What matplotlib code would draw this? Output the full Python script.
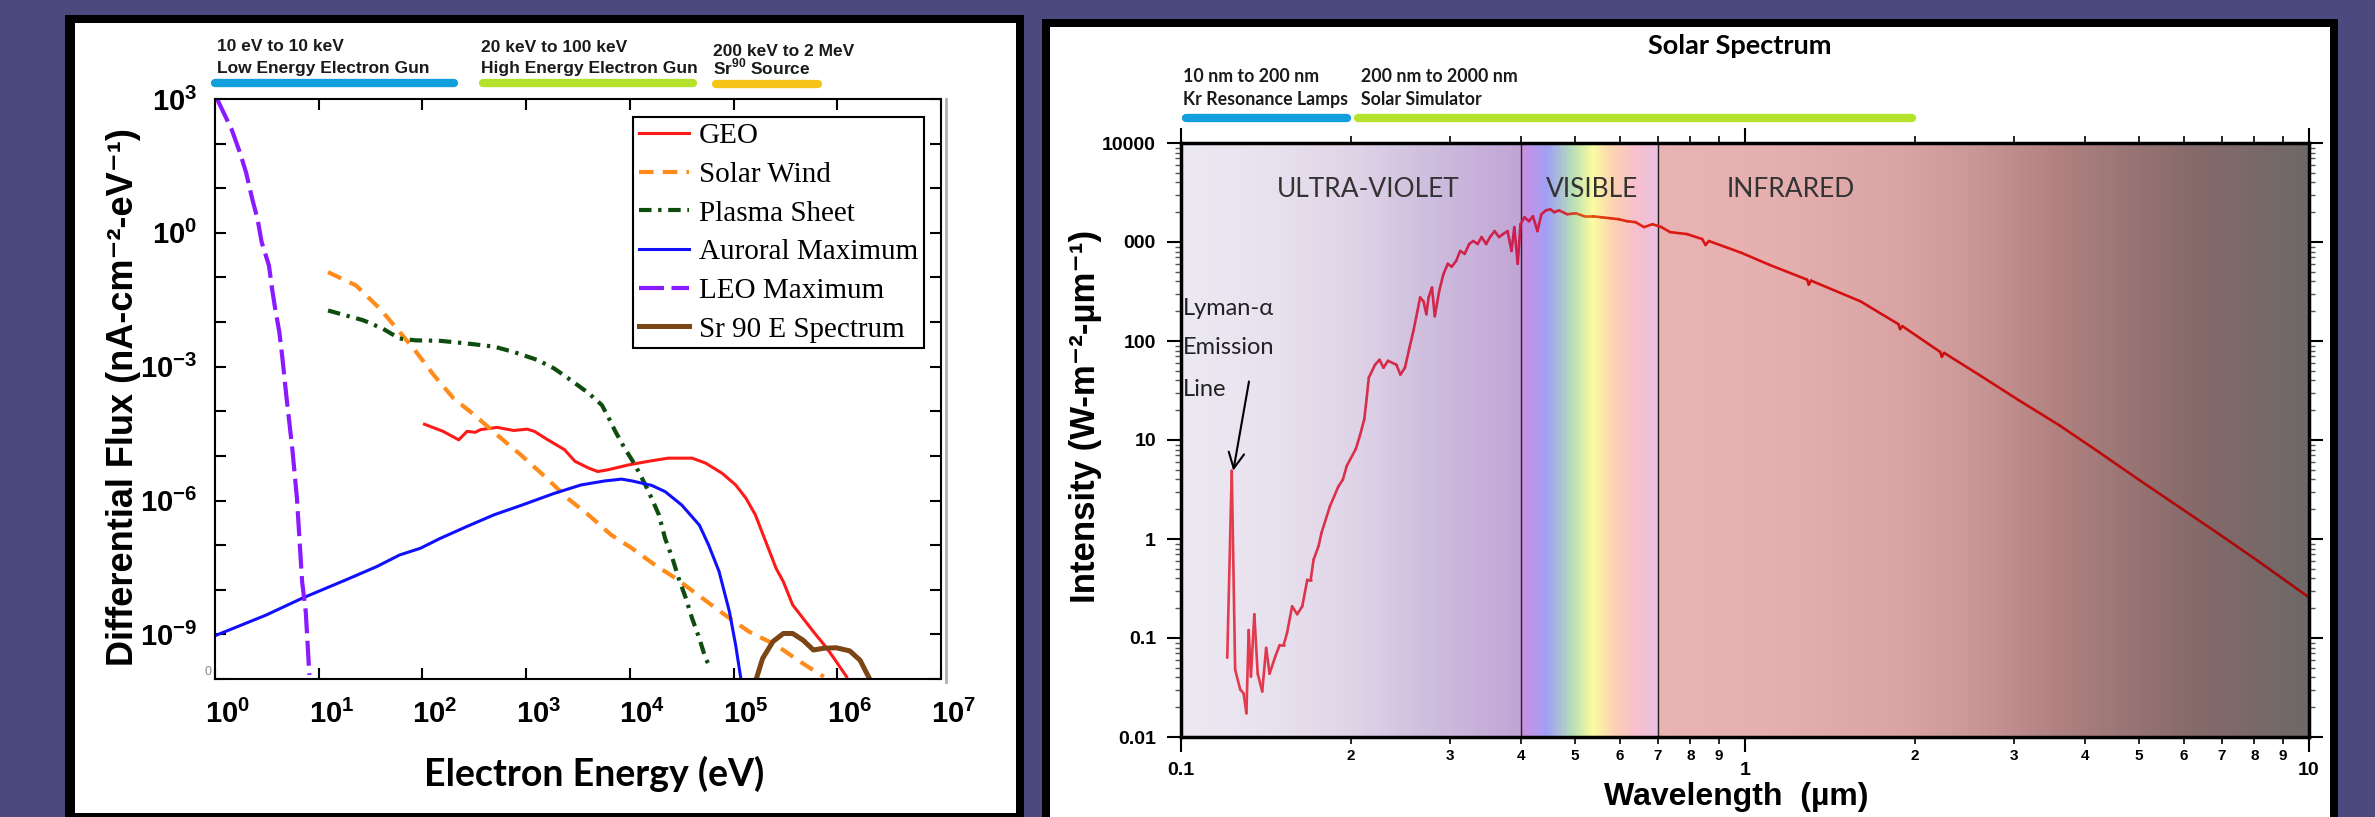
import matplotlib
matplotlib.use('Agg')
import matplotlib.pyplot as plt
import matplotlib.transforms as mtransforms
from matplotlib.patches import Rectangle
from matplotlib.lines import Line2D
from matplotlib.collections import LineCollection
from matplotlib.ticker import FixedLocator, FixedFormatter, NullFormatter, NullLocator, LogLocator
import numpy as np

plt.rcParams['font.family'] = ['Liberation Sans', 'DejaVu Sans']
plt.rcParams['mathtext.fontset'] = 'custom'
plt.rcParams['mathtext.rm'] = 'Liberation Sans'
plt.rcParams['mathtext.bf'] = 'Liberation Sans:bold'

# ---- left chart: electron spectra (log10 energy in eV, log10 flux) ----
geo_log_e = [2.02, 2.20, 2.35, 2.43, 2.51, 2.56, 2.72, 2.88, 3.01, 3.08, 3.21, 3.37, 3.47, 3.60,
             3.69, 3.79, 3.99, 4.18, 4.37, 4.60, 4.73, 4.89, 5.02, 5.12, 5.21, 5.31, 5.41, 5.48,
             5.57, 5.67, 5.77, 5.90, 5.99, 6.09]
geo_log_f = [-4.29, -4.45, -4.64, -4.45, -4.47, -4.41, -4.36, -4.43, -4.40, -4.45, -4.64, -4.86,
             -5.12, -5.27, -5.35, -5.31, -5.20, -5.12, -5.05, -5.05, -5.16, -5.39, -5.65, -5.95,
             -6.32, -6.92, -7.52, -7.82, -8.34, -8.64, -8.94, -9.31, -9.61, -9.95]

sw_log_e = [1.09, 1.36, 1.59, 1.78, 1.94, 2.11, 2.30, 2.50, 2.72, 2.95, 3.18, 3.40, 3.60, 3.82,
            4.02, 4.24, 4.44, 4.70, 4.92, 5.15, 5.41, 5.64, 5.87]
sw_log_f = [-0.88, -1.18, -1.70, -2.22, -2.67, -3.19, -3.71, -4.08, -4.53, -4.98, -5.46, -5.95,
            -6.32, -6.77, -7.07, -7.44, -7.74, -8.19, -8.57, -8.94, -9.24, -9.61, -9.95]

ps_log_e = [1.09, 1.43, 1.62, 1.78, 1.94, 2.17, 2.43, 2.69, 2.88, 3.11, 3.27, 3.43, 3.60, 3.73,
            3.79, 3.86, 3.95, 4.05, 4.15, 4.21, 4.28, 4.34, 4.41, 4.47, 4.54, 4.60, 4.67, 4.73, 4.78]
ps_log_f = [-1.74, -1.96, -2.15, -2.37, -2.41, -2.42, -2.48, -2.55, -2.67, -2.85, -3.04, -3.30,
            -3.59, -3.86, -4.12, -4.45, -4.83, -5.20, -5.65, -5.95, -6.32, -6.85, -7.29, -7.74,
            -8.19, -8.64, -9.09, -9.54, -9.76]

au_log_e = [0.0, 0.49, 0.84, 1.26, 1.56, 1.78, 1.98, 2.17, 2.43, 2.69, 2.95, 3.27, 3.53, 3.76,
            3.92, 4.02, 4.21, 4.34, 4.50, 4.67, 4.76, 4.86, 4.96, 5.02, 5.07]
au_log_f = [-9.03, -8.57, -8.19, -7.78, -7.48, -7.22, -7.07, -6.85, -6.58, -6.32, -6.11, -5.84,
            -5.65, -5.56, -5.52, -5.56, -5.66, -5.80, -6.10, -6.55, -7.00, -7.59, -8.49, -9.24, -9.99]

leo_log_e = [0.02, 0.16, 0.24, 0.30, 0.36, 0.41, 0.45, 0.52, 0.55, 0.58, 0.62, 0.65, 0.68, 0.69,
             0.745, 0.79, 0.82, 0.84, 0.875, 0.91]
leo_log_f = [3.0, 2.32, 1.80, 1.35, 0.75, 0.31, -0.21, -0.73, -1.25, -1.70, -2.22, -2.81, -3.48,
             -3.70, -4.83, -5.95, -7.07, -7.82, -8.49, -9.91]

sr_log_e = [5.22, 5.28, 5.38, 5.48, 5.57, 5.67, 5.77, 5.87, 5.99, 6.12, 6.22, 6.31]
sr_log_f = [-9.99, -9.54, -9.16, -8.98, -8.98, -9.13, -9.35, -9.31, -9.30, -9.37, -9.58, -9.99]

series_names = ['GEO', 'Solar Wind', 'Plasma Sheet', 'Auroral Maximum', 'LEO Maximum', 'Sr 90 E Spectrum']

energy_decades = [0, 1, 2, 3, 4, 5, 6, 7]
flux_decades = list(range(-10, 4))
flux_labelled = [3, 0, -3, -6, -9]

left_bar_texts = [('10 eV to 10 keV', 'Low Energy Electron Gun'),
                  ('20 keV to 100 keV', 'High Energy Electron Gun'),
                  ('200 keV to 2 MeV', r'Sr$^{\mathbf{90}}$ Source')]
left_bar_ranges = [(1.0, 200.0), (380.0, 41000.0), (68000.0, 650000.0)]

# ---- right chart: solar spectrum (log10 wavelength in um, log10 intensity) ----
spec_log_wl = [-0.918, -0.910, -0.904, -0.895, -0.889, -0.884, -0.880, -0.876, -0.870, -0.864,
               -0.856, -0.849, -0.843, -0.833, -0.825, -0.818, -0.812, -0.803, -0.794, -0.785,
               -0.776, -0.770, -0.765, -0.756, -0.751, -0.736, -0.721, -0.713, -0.706, -0.690,
               -0.683, -0.675, -0.671, -0.667, -0.656, -0.648, -0.641, -0.633, -0.618, -0.611,
               -0.603, -0.595, -0.588, -0.583, -0.576, -0.570, -0.565, -0.561, -0.555, -0.550,
               -0.542, -0.535, -0.527, -0.520, -0.512, -0.505, -0.497, -0.489, -0.482, -0.474,
               -0.467, -0.459, -0.452, -0.444, -0.436, -0.429, -0.421, -0.414, -0.409, -0.403,
               -0.398, -0.391, -0.383, -0.376, -0.368, -0.361, -0.353, -0.345, -0.338, -0.330,
               -0.315, -0.300, -0.285, -0.270, -0.255, -0.239, -0.224, -0.209, -0.194, -0.179,
               -0.164, -0.148, -0.133, -0.103, -0.076, -0.070, -0.064, -0.006, 0.043, 0.110,
               0.113, 0.117, 0.205, 0.272, 0.275, 0.279, 0.346, 0.349, 0.353, 0.416, 0.486,
               0.557, 0.627, 0.698, 0.768, 0.838, 0.909, 1.0]
spec_log_int = [-1.20, 0.69, -1.32, -1.52, -1.56, -1.76, -0.92, -1.39, -0.76, -1.36,
                -1.54, -1.10, -1.36, -1.19, -1.07, -1.07, -0.95, -0.68, -0.76, -0.68,
                -0.41, -0.41, -0.21, -0.07, 0.06, 0.33, 0.53, 0.60, 0.74, 0.91,
                1.04, 1.21, 1.41, 1.63, 1.76, 1.81, 1.73, 1.80, 1.76, 1.66,
                1.73, 1.93, 2.10, 2.24, 2.44, 2.40, 2.27, 2.44, 2.54, 2.25,
                2.51, 2.67, 2.78, 2.75, 2.81, 2.91, 2.88, 2.98, 3.01, 2.98,
                3.05, 2.98, 3.05, 3.11, 3.05, 3.08, 3.11, 2.91, 3.15, 2.78,
                3.18, 3.25, 3.21, 3.26, 3.11, 3.28, 3.32, 3.33, 3.30, 3.32,
                3.28, 3.29, 3.26, 3.26, 3.25, 3.24, 3.23, 3.21, 3.20, 3.15,
                3.18, 3.15, 3.10, 3.08, 3.03, 2.97, 3.01, 2.89, 2.77, 2.62,
                2.57, 2.61, 2.40, 2.17, 2.12, 2.15, 1.89, 1.84, 1.88, 1.655, 1.40,
                1.15, 0.88, 0.60, 0.33, 0.06, -0.22, -0.59]

wl_major = [0.1, 1, 10]
wl_major_labels = ['0.1', '1', '10']
wl_minor = [0.2, 0.3, 0.4, 0.5, 0.6, 0.7, 0.8, 0.9, 2, 3, 4, 5, 6, 7, 8, 9]
wl_minor_labels = ['2', '3', '4', '5', '6', '7', '8', '9'] * 2
int_ticks = [0.01, 0.1, 1, 10, 100, 1000, 10000]
int_labels = ['0.01', '0.1', '1', '10', '100', '000', '10000']
band_edges = [0.4, 0.7]
region_names = ['ULTRA-VIOLET', 'VISIBLE', 'INFRARED']
right_bar_texts = [('10 nm to 200 nm', 'Kr Resonance Lamps'),
                   ('200 nm to 2000 nm', 'Solar Simulator')]
right_bar_ranges = [(0.102, 0.197), (0.206, 1.98)]
lyman_peak = (0.1238, 4.9)
lyman_arrow_start = (0.132, 39.0)

# background colour stops along log10 wavelength
bg_stops = [(-1.0, '#ece9f2'), (-0.85, '#e8e2ee'), (-0.7, '#dfd4e7'), (-0.55, '#cdbcdd'),
            (-0.399, '#c0a5d5'), (-0.397, '#cc8ee0'), (-0.350, '#a0a0f5'), (-0.305, '#b8e0b4'),
            (-0.270, '#fbfba0'), (-0.233, '#fbd2b2'), (-0.195, '#f7c0cc'), (-0.156, '#ecc0e0'),
            (-0.154, '#e9b3b3'), (0.03, '#e6b0b0'), (0.285, '#d9a3a3'), (0.41, '#c99696'),
            (0.54, '#b38282'), (0.665, '#9c7676'), (0.79, '#876a6a'), (0.92, '#776868'),
            (1.0, '#6e6868')]
curve_stops = [(-1.0, '#e8404f'), (-0.6, '#d42a4a'), (-0.40, '#cc1f4f'), (-0.33, '#cc2040'),
               (-0.28, '#e0600f'), (-0.24, '#e03010'), (-0.1, '#dd1515'), (0.5, '#c80c0c'),
               (1.0, '#a00808')]

W, H = 2375, 817


def fx(x):
    return x / W


def fy(y):
    return 1 - y / H


def box(x0, y0, x1, y1):
    return [x0 / W, 1 - y1 / H, (x1 - x0) / W, (y1 - y0) / H]


def hexrgb(h):
    return np.array([int(h[i:i + 2], 16) for i in (1, 3, 5)]) / 255.0


def interp_colors(stops, pos):
    p = [s[0] for s in stops]
    cols = np.array([hexrgb(s[1]) for s in stops])
    return np.stack([np.interp(pos, p, cols[:, k]) for k in range(3)], axis=-1)


fig = plt.figure(figsize=(W / 100, H / 100), dpi=100, facecolor='#4b4a7e')


def ftext(x, y, s, **kw):
    return fig.text(fx(x), fy(y), s, **kw)


def frame(x0, y0, x1, y1, color, z):
    fig.add_artist(Rectangle((fx(x0), fy(y1)), (x1 - x0) / W, (y1 - y0) / H,
                             transform=fig.transFigure, fc=color, ec='none', zorder=z))


frame(65, 15, 1024, 817, 'black', -3)
frame(75, 23, 1016, 813, 'white', -2)
frame(1042, 19, 2338, 830, 'black', -3)
frame(1050, 27, 2330, 830, 'white', -2)

# ================= left chart =================
ax1 = fig.add_axes(box(215, 99, 941, 679))
ax1.set_xscale('log')
ax1.set_yscale('log')
ax1.set_xlim(1, 1e7)
ax1.set_ylim(1e-10, 1e3)

styles = [
    dict(color='#ff1a1a', lw=2.2, ls='-'),
    dict(color='#ff8c1a', lw=3.0, dashes=(3.5, 2.2)),
    dict(color='#0f4d0f', lw=3.0, dashes=(3.0, 1.6, 0.8, 1.6)),
    dict(color='#1010ff', lw=2.2, ls='-'),
    dict(color='#8a1aff', lw=3.0, dashes=(6.0, 1.8)),
    dict(color='#7b4514', lw=3.6, ls='-'),
]
curves = [(geo_log_e, geo_log_f), (sw_log_e, sw_log_f), (ps_log_e, ps_log_f),
          (au_log_e, au_log_f), (leo_log_e, leo_log_f), (sr_log_e, sr_log_f)]
for (le, lf), name, st in zip(curves, series_names, styles):
    ax1.plot(10.0 ** np.array(le), 10.0 ** np.array(lf), label=name, **st)

ax1.set_xticks(10.0 ** np.array(energy_decades))
ax1.set_xticklabels([r'$\mathbf{10^{%d}}$' % d for d in energy_decades])
ax1.set_yticks(10.0 ** np.array(flux_decades, dtype=float))
ax1.set_yticklabels([r'$\mathbf{10^{%d}}$' % d if d in flux_labelled else '' for d in flux_decades])
ax1.xaxis.set_minor_locator(NullLocator())
ax1.yaxis.set_minor_locator(NullLocator())
ax1.tick_params(axis='both', direction='in', length=8, width=1.5, top=True, right=True,
                labelsize=21)
ax1.tick_params(axis='x', pad=15)
ax1.tick_params(axis='y', pad=13)
shift = mtransforms.ScaledTranslation(9 / 72, 0, fig.dpi_scale_trans)
for lab in ax1.get_xticklabels():
    lab.set_transform(lab.get_transform() + shift)
for sp in ax1.spines.values():
    sp.set_linewidth(1.5)

leg = ax1.legend(loc='upper right', bbox_to_anchor=(0.9766, 0.969),
                 prop={'family': 'Liberation Serif', 'size': 21}, fancybox=False,
                 edgecolor='black', framealpha=1, borderpad=0.2, labelspacing=0.42,
                 handlelength=1.7, handletextpad=0.35, borderaxespad=0)
leg.get_frame().set_linewidth(1.5)

fig.add_artist(Line2D([fx(946), fx(946)], [fy(99), fy(682)], transform=fig.transFigure,
                      color='#b0b0b0', lw=2))
ftext(208, 672, '0', fontsize=9, color='#888888', ha='center', va='center')

# header bars (x in data, y in figure)
tr1 = mtransforms.blended_transform_factory(ax1.transData, fig.transFigure)
bar_colors_left = ['#12a0dc', '#b5e22a', '#f5c518']
bar_y_left = [83, 83, 84]
for (a, b), c, yb in zip(left_bar_ranges, bar_colors_left, bar_y_left):
    ax1.plot([a, b], [fy(yb), fy(yb)], transform=tr1, color=c, lw=6,
             solid_capstyle='round', clip_on=False)
left_text_pos = [(217, 50.7, 72.7), (481, 52, 73.5), (713, 55.5, 74)]
for (l1, l2), (x, y1, y2) in zip(left_bar_texts, left_text_pos):
    ftext(x, y1, l1, fontsize=12.5, fontweight='bold', color='#1a1a1a', va='baseline')
    ftext(x, y2, l2, fontsize=12.5, fontweight='bold', color='#1a1a1a', va='baseline')

ftext(124, 397, 'Differential Flux (nA-cm⁻²-eV⁻¹)', fontsize=26, fontweight='bold',
      rotation=90, ha='center', va='center', family=['Liberation Sans', 'DejaVu Sans'])
ftext(594, 786, 'Electron Energy (eV)', fontsize=27, fontweight='bold',
      ha='center', va='baseline', family=['Lato', 'DejaVu Sans'])

# ================= right chart =================
ax2 = fig.add_axes(box(1181, 143, 2309, 737))
ax2.set_xscale('log')
ax2.set_yscale('log')
ax2.set_xlim(0.1, 10)
ax2.set_ylim(0.01, 1e4)

edges = np.logspace(-1, 1, 901)
mids = (np.log10(edges[:-1]) + np.log10(edges[1:])) / 2
rgb = interp_colors(bg_stops, mids)[None, :, :]
ax2.pcolormesh(edges, [0.01, 1e4], rgb, shading='flat', antialiased=False, linewidth=0, zorder=0)

for e in band_edges:
    ax2.axvline(e, color='#222222', lw=1.0, zorder=1)

pts = np.column_stack([10.0 ** np.array(spec_log_wl), 10.0 ** np.array(spec_log_int)])
segs = np.stack([pts[:-1], pts[1:]], axis=1)
seg_mid = (np.array(spec_log_wl[:-1]) + np.array(spec_log_wl[1:])) / 2
lc = LineCollection(segs, colors=interp_colors(curve_stops, seg_mid), linewidths=1.9,
                    capstyle='round', joinstyle='round', zorder=3)
ax2.add_collection(lc)

ax2.annotate('', xy=lyman_peak, xytext=lyman_arrow_start,
             arrowprops=dict(arrowstyle='->', color='black', lw=1.5, mutation_scale=28,
                             shrinkA=0, shrinkB=0), zorder=4)

ax2.set_xticks(wl_major)
ax2.set_xticklabels(wl_major_labels)
ax2.xaxis.set_minor_locator(FixedLocator(wl_minor))
ax2.xaxis.set_minor_formatter(FixedFormatter(wl_minor_labels))
ax2.set_yticks(int_ticks)
ax2.set_yticklabels(int_labels)
ax2.yaxis.set_minor_locator(LogLocator(base=10, subs=np.arange(2, 10), numticks=20))
ax2.yaxis.set_minor_formatter(NullFormatter())
ax2.tick_params(axis='x', which='major', direction='out', length=11, width=1.5, top=True,
                labelsize=14, pad=7)
ax2.tick_params(axis='x', which='minor', direction='out', length=5, width=1.2, top=True,
                labelsize=11, pad=4)
ax2.tick_params(axis='y', which='major', direction='out', length=10, width=1.5, right=True,
                labelsize=14, pad=8)
ax2.tick_params(axis='y', which='minor', direction='out', length=4.5, width=1.0, right=True,
                color='#555555')
for lab in ax2.get_xticklabels(which='both') + ax2.get_yticklabels():
    lab.set_fontweight('bold')
for sp in ax2.spines.values():
    sp.set_linewidth(2.5)
    sp.set_zorder(5)

tr2 = mtransforms.blended_transform_factory(ax2.transData, fig.transFigure)
for (a, b), c, yb in zip(right_bar_ranges, ['#12a0dc', '#b5e22a'], [117.5, 118]):
    ax2.plot([a, b], [fy(yb), fy(yb)], transform=tr2, color=c, lw=6,
             solid_capstyle='round', clip_on=False)
for (l1, l2), x in zip(right_bar_texts, [1183, 1361]):
    ftext(x, 81.7, l1, fontsize=12.8, fontweight='bold', color='#1a1a1a', va='baseline',
          family=['Lato', 'DejaVu Sans'])
    ftext(x, 105, l2, fontsize=12.8, fontweight='bold', color='#1a1a1a', va='baseline',
          family=['Lato', 'DejaVu Sans'])

ftext(1740, 54, 'Solar Spectrum', fontsize=19.5, fontweight='bold', ha='center', va='baseline',
      family=['Lato', 'DejaVu Sans'])

for name, x in zip(region_names, [1368, 1592, 1791]):
    ftext(x, 196.7, name, fontsize=19, color='#333333', ha='center', va='baseline',
          family=['Lato', 'DejaVu Sans'])
for line, y in zip(['Lyman-α', 'Emission', 'Line'], [315, 354, 395.7]):
    ftext(1183, y, line, fontsize=17, color='#222222', va='baseline',
          family=['Lato', 'DejaVu Sans'])

ftext(1085, 416, 'Intensity (W-m⁻²-µm⁻¹)', fontsize=25, fontweight='bold', rotation=90,
      ha='center', va='center', family=['Liberation Sans', 'DejaVu Sans'])
ftext(1736, 805, 'Wavelength  (µm)', fontsize=23, fontweight='bold', ha='center',
      va='baseline')

fig.savefig('out.png', dpi=100, facecolor=fig.get_facecolor())
